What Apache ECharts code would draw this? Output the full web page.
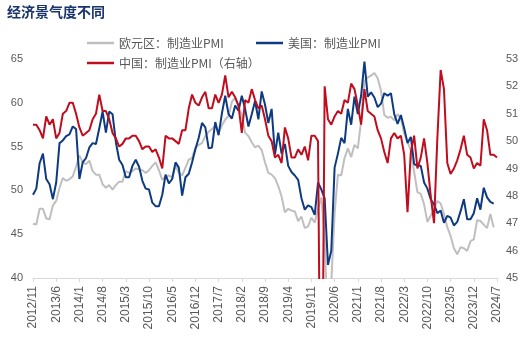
<!DOCTYPE html>
<html>
<head>
<meta charset="utf-8">
<script src="https://cdn.jsdelivr.net/npm/echarts@6/dist/echarts.min.js"></script>
<style>html,body{margin:0;padding:0;background:#fff;}#c{width:530px;height:339px;}</style>
</head>
<body>
<div id="c"></div>
<script>
var categories = [
 '2012/11','2012/12',
 '2013/1','2013/2','2013/3','2013/4','2013/5','2013/6','2013/7','2013/8','2013/9','2013/10','2013/11','2013/12',
 '2014/1','2014/2','2014/3','2014/4','2014/5','2014/6','2014/7','2014/8','2014/9','2014/10','2014/11','2014/12',
 '2015/1','2015/2','2015/3','2015/4','2015/5','2015/6','2015/7','2015/8','2015/9','2015/10','2015/11','2015/12',
 '2016/1','2016/2','2016/3','2016/4','2016/5','2016/6','2016/7','2016/8','2016/9','2016/10','2016/11','2016/12',
 '2017/1','2017/2','2017/3','2017/4','2017/5','2017/6','2017/7','2017/8','2017/9','2017/10','2017/11','2017/12',
 '2018/1','2018/2','2018/3','2018/4','2018/5','2018/6','2018/7','2018/8','2018/9','2018/10','2018/11','2018/12',
 '2019/1','2019/2','2019/3','2019/4','2019/5','2019/6','2019/7','2019/8','2019/9','2019/10','2019/11','2019/12',
 '2020/1','2020/2','2020/3','2020/4','2020/5','2020/6','2020/7','2020/8','2020/9','2020/10','2020/11','2020/12',
 '2021/1','2021/2','2021/3','2021/4','2021/5','2021/6','2021/7','2021/8','2021/9','2021/10','2021/11','2021/12',
 '2022/1','2022/2','2022/3','2022/4','2022/5','2022/6','2022/7','2022/8','2022/9','2022/10','2022/11','2022/12',
 '2023/1','2023/2','2023/3','2023/4','2023/5','2023/6','2023/7','2023/8','2023/9','2023/10','2023/11','2023/12',
 '2024/1','2024/2','2024/3','2024/4','2024/5','2024/6','2024/7'
];
var euroPMI = [
 46.2,46.1,
 47.9,47.9,46.8,46.7,48.3,48.8,50.3,51.4,51.1,51.3,51.6,52.7,
 54.0,53.2,53.0,53.4,52.2,51.8,51.8,50.7,50.3,50.6,50.1,50.6,
 51.0,51.0,52.2,52.0,52.2,52.5,52.4,52.3,52.0,52.3,52.8,53.2,
 52.3,51.2,51.6,51.7,51.5,52.8,52.0,51.7,52.6,53.5,53.7,54.9,
 55.2,55.4,56.2,56.7,57.0,57.4,56.6,57.4,58.1,58.5,60.1,60.6,
 59.6,58.6,56.6,56.2,55.5,54.9,55.1,54.6,53.2,52.0,51.8,51.4,
 50.5,49.3,47.5,47.9,47.7,47.6,46.5,47.0,45.7,45.9,46.9,46.3,
 47.9,49.2,44.5,33.4,39.4,47.4,51.8,51.7,53.7,54.8,53.8,55.2,
 54.8,57.9,62.5,62.9,63.1,63.4,62.8,61.4,58.6,58.3,58.4,58.0,
 58.7,58.2,56.5,55.5,54.6,52.1,49.8,49.6,48.4,46.4,47.1,47.8,
 48.8,48.5,47.3,45.8,44.8,43.4,42.7,43.5,43.4,43.1,44.2,44.4,
 46.6,46.5,46.1,45.7,47.3,45.8,null
];
var usPMI = [
 49.5,50.2,
 53.1,54.2,51.3,50.7,49.0,50.9,55.4,55.7,56.2,56.4,57.3,57.0,
 51.3,53.2,53.7,54.9,55.4,55.3,57.1,59.0,56.6,59.0,58.7,55.5,
 53.5,52.9,51.5,51.5,52.8,53.5,52.7,51.1,50.2,50.1,48.6,48.2,
 48.2,49.5,51.8,50.8,51.3,53.2,52.6,49.4,51.5,51.9,53.2,54.7,
 56.0,57.7,57.2,54.8,54.9,57.8,56.3,58.8,60.8,58.7,58.2,59.7,
 59.1,60.8,59.3,57.3,58.7,60.2,58.1,61.3,59.8,57.7,59.3,54.1,
 56.6,54.2,55.3,52.8,52.1,51.7,51.2,49.1,47.8,48.3,48.1,47.2,
 50.9,50.1,49.1,41.5,43.1,52.6,54.2,56.0,55.4,59.3,57.5,60.7,
 58.7,60.8,64.7,60.7,61.2,60.6,59.5,59.9,61.1,60.8,61.1,58.7,
 57.6,58.6,57.1,55.4,56.1,53.0,52.8,52.8,50.9,50.2,49.0,48.4,
 47.4,47.7,46.3,47.1,46.9,46.0,46.4,47.6,49.0,46.7,46.7,47.4,
 49.1,47.8,50.3,49.2,48.7,48.5,null
];
var chinaPMI = [
 50.6,50.6,
 50.4,50.1,50.9,50.6,50.8,50.1,50.3,51.0,51.1,51.4,51.4,51.0,
 50.5,50.2,50.3,50.4,50.8,51.0,51.7,51.1,51.1,50.8,50.3,50.1,
 49.8,49.9,50.1,50.1,50.2,50.2,50.0,49.7,49.8,49.8,49.6,49.7,
 49.4,49.0,50.2,50.1,50.1,50.0,49.9,50.4,50.4,51.2,51.7,51.4,
 51.3,51.6,51.8,51.2,51.2,51.7,51.4,51.7,52.4,51.6,51.8,51.6,
 51.3,50.3,51.5,51.4,51.9,51.5,51.2,51.3,50.8,50.2,50.0,49.4,
 49.5,49.2,50.5,50.1,49.4,49.4,49.7,49.5,49.8,49.3,50.2,50.2,
 50.0,35.7,52.0,50.8,50.6,50.9,51.1,51.0,51.5,51.4,52.1,51.9,
 51.3,50.6,51.9,51.1,51.0,50.9,50.4,50.1,49.6,49.2,50.1,50.3,
 50.1,50.2,49.5,47.4,49.6,50.2,49.0,49.4,50.1,49.2,48.0,47.0,
 50.1,52.6,51.9,49.2,48.8,49.0,49.3,49.7,50.2,49.5,49.4,49.0,
 49.2,49.1,50.8,50.4,49.5,49.5,49.4
];
var seriesNames = ['欧元区：制造业PMI','美国：制造业PMI','中国：制造业PMI（右轴）'];
var leftTicks = {min: 40, max: 65, interval: 5};
var rightTicks = {min: 45, max: 53, interval: 1};

var chart = echarts.init(document.getElementById('c'), null, {renderer: 'canvas'});
var labelFont = 'Liberation Sans, Arial, sans-serif';
var cjkFont = 'Noto Sans CJK SC, sans-serif';
function legendAt(name, left, top) {
  return {
    data: [name], left: left, top: top, orient: 'horizontal',
    icon: 'rect', itemWidth: 27, itemHeight: 2.5, itemGap: 10, padding: 0,
    textStyle: {color: '#595959', fontSize: 12, fontFamily: cjkFont}
  };
}
chart.setOption({
  animation: false,
  backgroundColor: '#ffffff',
  title: {
    text: '经济景气度不同', left: 7, top: 5, padding: 0,
    textStyle: {color: '#1a356b', fontSize: 14, fontWeight: 'bold', fontFamily: cjkFont}
  },
  legend: [
    legendAt(seriesNames[0], 87, 37),
    legendAt(seriesNames[1], 256, 37),
    legendAt(seriesNames[2], 87, 57)
  ],
  grid: {left: 33, right: 33, top: 59, bottom: 61, containLabel: false},
  xAxis: {
    type: 'category', data: categories, boundaryGap: false,
    axisLine: {lineStyle: {color: '#d9d9d9', width: 1}},
    axisTick: {show: true, interval: 6, length: 4, lineStyle: {color: '#d9d9d9'}},
    axisLabel: {interval: 6, rotate: 90, margin: 8, color: '#595959', fontSize: 12, fontFamily: labelFont},
    splitLine: {show: false}
  },
  yAxis: [
    {type: 'value', min: leftTicks.min, max: leftTicks.max, interval: leftTicks.interval,
     axisLine: {show: false}, axisTick: {show: false}, splitLine: {show: false},
     axisLabel: {color: '#595959', fontSize: 11, margin: 10, fontFamily: labelFont}},
    {type: 'value', min: rightTicks.min, max: rightTicks.max, interval: rightTicks.interval, position: 'right',
     axisLine: {show: false}, axisTick: {show: false}, splitLine: {show: false},
     axisLabel: {color: '#595959', fontSize: 11, margin: 9, fontFamily: labelFont}}
  ],
  series: [
    {name: seriesNames[0], type: 'line', data: euroPMI, yAxisIndex: 0, symbol: 'none', clip: true,
     lineStyle: {color: '#bfbfbf', width: 2}, itemStyle: {color: '#bfbfbf'}},
    {name: seriesNames[1], type: 'line', data: usPMI, yAxisIndex: 0, symbol: 'none', clip: true,
     lineStyle: {color: '#0d3a80', width: 2}, itemStyle: {color: '#0d3a80'}},
    {name: seriesNames[2], type: 'line', data: chinaPMI, yAxisIndex: 1, symbol: 'none', clip: true,
     lineStyle: {color: '#c00d1e', width: 2}, itemStyle: {color: '#c00d1e'}}
  ]
});
</script>
</body>
</html>
